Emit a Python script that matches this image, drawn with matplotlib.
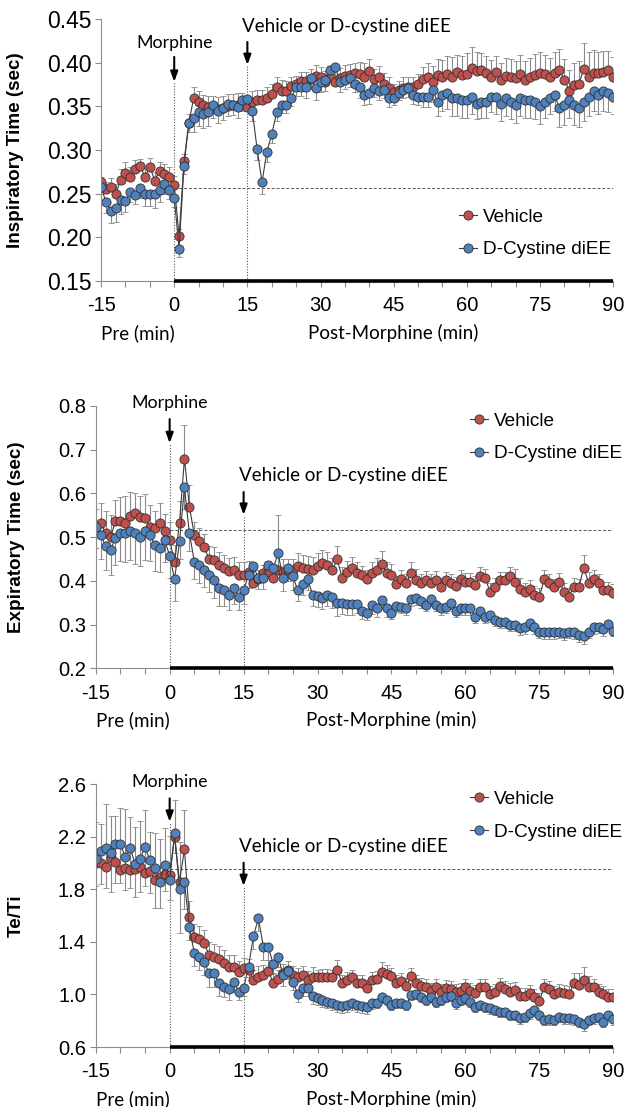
import numpy as np
import matplotlib
matplotlib.use("Agg")
import matplotlib.pyplot as plt
from matplotlib.ticker import MultipleLocator, FormatStrFormatter
from matplotlib.transforms import blended_transform_factory

plt.rcParams['font.family'] = ['Liberation Sans', 'DejaVu Sans']
plt.rcParams['axes.unicode_minus'] = False

# ==========================================
# data, one value per minute, -15 .. 90
# ==========================================
minutes = list(range(-15, 91))

# --- Inspiratory time (sec) ---
ti_vehicle = [
    0.263, 0.255, 0.258, 0.249, 0.266, 0.274, 0.269, 0.278, 0.282, 0.269,
    0.281, 0.265, 0.276, 0.272, 0.269, 0.260, 0.201, 0.287, 0.331, 0.360,
    0.355, 0.351, 0.349, 0.348, 0.347, 0.348, 0.350, 0.351, 0.352, 0.353,
    0.349, 0.355, 0.357, 0.357, 0.360, 0.364, 0.372, 0.368, 0.367, 0.373,
    0.375, 0.379, 0.379, 0.381, 0.385, 0.383, 0.378, 0.384, 0.378, 0.382,
    0.385, 0.386, 0.388, 0.387, 0.383, 0.390, 0.381, 0.384, 0.376, 0.371,
    0.366, 0.369, 0.371, 0.372, 0.372, 0.375, 0.381, 0.384, 0.378, 0.386,
    0.383, 0.387, 0.384, 0.389, 0.386, 0.387, 0.394, 0.390, 0.391, 0.388,
    0.383, 0.389, 0.380, 0.385, 0.384, 0.382, 0.387, 0.380, 0.383, 0.386,
    0.388, 0.387, 0.383, 0.388, 0.392, 0.380, 0.368, 0.374, 0.376, 0.393,
    0.384, 0.388, 0.388, 0.389, 0.391, 0.384]
ti_vehicle_err = [
    0.006, 0.008, 0.010, 0.012, 0.012, 0.012, 0.012, 0.010, 0.008, 0.010,
    0.010, 0.010, 0.010, 0.012, 0.012, 0.010, 0.008, 0.008, 0.010, 0.012,
    0.012, 0.012, 0.013, 0.014, 0.014, 0.014, 0.014, 0.013, 0.013, 0.012,
    0.012, 0.012, 0.012, 0.012, 0.012, 0.012, 0.012, 0.012, 0.012, 0.010,
    0.010, 0.010, 0.010, 0.012, 0.012, 0.012, 0.012, 0.012, 0.014, 0.012,
    0.012, 0.012, 0.012, 0.014, 0.016, 0.014, 0.012, 0.012, 0.012, 0.012,
    0.010, 0.010, 0.012, 0.012, 0.012, 0.012, 0.014, 0.016, 0.018, 0.018,
    0.020, 0.020, 0.022, 0.020, 0.022, 0.024, 0.024, 0.022, 0.020, 0.020,
    0.020, 0.018, 0.020, 0.020, 0.020, 0.020, 0.022, 0.022, 0.022, 0.024,
    0.024, 0.022, 0.022, 0.024, 0.024, 0.024, 0.024, 0.026, 0.026, 0.030,
    0.028, 0.026, 0.024, 0.024, 0.022, 0.022]
ti_cystine = [
    0.258, 0.240, 0.230, 0.233, 0.243, 0.241, 0.252, 0.248, 0.257, 0.250,
    0.250, 0.250, 0.254, 0.261, 0.254, 0.245, 0.187, 0.282, 0.331, 0.336,
    0.343, 0.341, 0.343, 0.351, 0.345, 0.348, 0.353, 0.352, 0.349, 0.357,
    0.358, 0.345, 0.301, 0.263, 0.298, 0.318, 0.343, 0.352, 0.352, 0.360,
    0.372, 0.372, 0.372, 0.382, 0.371, 0.378, 0.380, 0.392, 0.395, 0.378,
    0.380, 0.382, 0.376, 0.372, 0.363, 0.365, 0.371, 0.367, 0.369, 0.359,
    0.359, 0.365, 0.369, 0.371, 0.363, 0.361, 0.361, 0.361, 0.369, 0.355,
    0.363, 0.365, 0.359, 0.359, 0.357, 0.357, 0.361, 0.353, 0.355, 0.355,
    0.361, 0.361, 0.353, 0.359, 0.355, 0.351, 0.359, 0.357, 0.357, 0.355,
    0.350, 0.355, 0.359, 0.363, 0.348, 0.351, 0.357, 0.351, 0.348, 0.355,
    0.361, 0.367, 0.363, 0.367, 0.365, 0.361]
ti_cystine_err = [
    0.008, 0.012, 0.014, 0.016, 0.016, 0.012, 0.012, 0.010, 0.012, 0.014,
    0.014, 0.016, 0.014, 0.012, 0.010, 0.010, 0.010, 0.010, 0.010, 0.016,
    0.016, 0.016, 0.016, 0.014, 0.014, 0.014, 0.014, 0.012, 0.012, 0.012,
    0.012, 0.012, 0.012, 0.014, 0.012, 0.010, 0.010, 0.010, 0.010, 0.010,
    0.010, 0.010, 0.012, 0.012, 0.014, 0.012, 0.012, 0.012, 0.012, 0.012,
    0.010, 0.010, 0.010, 0.012, 0.012, 0.012, 0.010, 0.010, 0.010, 0.010,
    0.008, 0.008, 0.010, 0.010, 0.010, 0.010, 0.012, 0.012, 0.014, 0.016,
    0.018, 0.018, 0.020, 0.020, 0.020, 0.020, 0.020, 0.018, 0.018, 0.018,
    0.018, 0.020, 0.020, 0.020, 0.020, 0.020, 0.020, 0.020, 0.020, 0.020,
    0.020, 0.018, 0.018, 0.018, 0.022, 0.022, 0.020, 0.022, 0.022, 0.022,
    0.022, 0.022, 0.022, 0.022, 0.022, 0.020]

# --- Expiratory time (sec) ---
te_vehicle = [
    0.525, 0.532, 0.510, 0.500, 0.536, 0.536, 0.533, 0.548, 0.555, 0.545,
    0.543, 0.524, 0.520, 0.532, 0.513, 0.494, 0.442, 0.533, 0.679, 0.570,
    0.505, 0.490, 0.478, 0.449, 0.448, 0.436, 0.429, 0.423, 0.425, 0.414,
    0.414, 0.420, 0.394, 0.405, 0.417, 0.421, 0.406, 0.425, 0.421, 0.425,
    0.425, 0.433, 0.429, 0.427, 0.425, 0.433, 0.440, 0.436, 0.425, 0.449,
    0.406, 0.421, 0.429, 0.417, 0.414, 0.404, 0.417, 0.425, 0.439, 0.417,
    0.414, 0.392, 0.404, 0.395, 0.419, 0.402, 0.395, 0.402, 0.396, 0.402,
    0.387, 0.401, 0.395, 0.388, 0.404, 0.398, 0.398, 0.391, 0.411, 0.406,
    0.375, 0.387, 0.401, 0.401, 0.411, 0.398, 0.381, 0.375, 0.381, 0.368,
    0.364, 0.404, 0.395, 0.385, 0.398, 0.375, 0.364, 0.387, 0.385, 0.430,
    0.395, 0.404, 0.395, 0.378, 0.378, 0.372]
te_vehicle_err = [
    0.040, 0.045, 0.050, 0.050, 0.050, 0.055, 0.060, 0.055, 0.045, 0.050,
    0.055, 0.050, 0.040, 0.045, 0.040, 0.040, 0.040, 0.050, 0.078, 0.050,
    0.030, 0.030, 0.030, 0.030, 0.030, 0.030, 0.030, 0.030, 0.030, 0.028,
    0.028, 0.025, 0.020, 0.020, 0.020, 0.025, 0.025, 0.125, 0.030, 0.025,
    0.025, 0.030, 0.030, 0.030, 0.030, 0.030, 0.030, 0.030, 0.028, 0.030,
    0.025, 0.025, 0.025, 0.025, 0.020, 0.020, 0.025, 0.028, 0.030, 0.025,
    0.025, 0.020, 0.020, 0.020, 0.025, 0.025, 0.020, 0.020, 0.020, 0.020,
    0.020, 0.020, 0.020, 0.020, 0.020, 0.020, 0.020, 0.020, 0.020, 0.020,
    0.020, 0.020, 0.020, 0.020, 0.020, 0.030, 0.025, 0.020, 0.020, 0.020,
    0.020, 0.020, 0.020, 0.020, 0.020, 0.020, 0.020, 0.020, 0.020, 0.030,
    0.025, 0.020, 0.020, 0.020, 0.020, 0.020]
te_cystine = [
    0.524, 0.505, 0.480, 0.471, 0.497, 0.510, 0.509, 0.513, 0.509, 0.500,
    0.513, 0.505, 0.482, 0.475, 0.494, 0.457, 0.404, 0.490, 0.614, 0.509,
    0.444, 0.436, 0.425, 0.414, 0.401, 0.383, 0.378, 0.368, 0.383, 0.364,
    0.378, 0.414, 0.433, 0.406, 0.406, 0.436, 0.429, 0.463, 0.406, 0.429,
    0.410, 0.378, 0.393, 0.404, 0.368, 0.365, 0.360, 0.368, 0.364, 0.350,
    0.349, 0.346, 0.346, 0.346, 0.332, 0.326, 0.345, 0.337, 0.356, 0.337,
    0.327, 0.343, 0.341, 0.337, 0.358, 0.360, 0.353, 0.345, 0.358, 0.345,
    0.337, 0.341, 0.350, 0.332, 0.337, 0.337, 0.337, 0.318, 0.330, 0.318,
    0.322, 0.311, 0.307, 0.307, 0.300, 0.300, 0.292, 0.294, 0.303, 0.294,
    0.284, 0.282, 0.282, 0.282, 0.284, 0.280, 0.284, 0.282, 0.276, 0.273,
    0.284, 0.294, 0.295, 0.289, 0.302, 0.286]
te_cystine_err = [
    0.050, 0.055, 0.055, 0.057, 0.060, 0.065, 0.065, 0.065, 0.070, 0.065,
    0.065, 0.060, 0.060, 0.055, 0.050, 0.050, 0.050, 0.040, 0.050, 0.040,
    0.040, 0.040, 0.040, 0.040, 0.040, 0.040, 0.035, 0.035, 0.035, 0.030,
    0.030, 0.030, 0.030, 0.025, 0.025, 0.030, 0.030, 0.040, 0.030, 0.030,
    0.030, 0.025, 0.025, 0.025, 0.025, 0.025, 0.025, 0.025, 0.025, 0.030,
    0.025, 0.025, 0.025, 0.020, 0.020, 0.015, 0.020, 0.020, 0.020, 0.020,
    0.015, 0.015, 0.015, 0.015, 0.015, 0.015, 0.015, 0.015, 0.015, 0.015,
    0.015, 0.015, 0.015, 0.015, 0.015, 0.015, 0.015, 0.015, 0.015, 0.015,
    0.015, 0.015, 0.015, 0.015, 0.015, 0.015, 0.015, 0.015, 0.015, 0.015,
    0.015, 0.015, 0.015, 0.015, 0.015, 0.015, 0.015, 0.015, 0.015, 0.018,
    0.015, 0.015, 0.015, 0.015, 0.012, 0.012]

# --- Te/Ti ---
ratio_vehicle = [
    2.004, 2.000, 1.973, 2.037, 2.010, 1.948, 1.960, 1.948, 1.953, 1.973,
    1.927, 1.940, 1.872, 1.897, 1.917, 1.910, 2.200, 1.860, 2.105, 1.592,
    1.440, 1.420, 1.390, 1.300, 1.288, 1.268, 1.237, 1.212, 1.212, 1.174,
    1.200, 1.190, 1.110, 1.136, 1.148, 1.181, 1.090, 1.115, 1.160, 1.186,
    1.148, 1.130, 1.148, 1.110, 1.136, 1.130, 1.136, 1.136, 1.130, 1.186,
    1.085, 1.110, 1.130, 1.085, 1.085, 1.047, 1.110, 1.115, 1.174, 1.156,
    1.140, 1.085, 1.105, 1.064, 1.140, 1.085, 1.064, 1.060, 1.029, 1.060,
    1.021, 1.047, 1.039, 1.021, 1.029, 1.060, 1.029, 1.014, 1.060, 1.060,
    1.003, 1.021, 1.064, 1.044, 1.021, 1.034, 0.988, 0.988, 1.009, 0.978,
    0.953, 1.060, 1.039, 1.003, 1.021, 1.009, 1.003, 1.085, 1.072, 1.110,
    1.060, 1.060, 1.021, 1.003, 0.978, 0.978]
ratio_vehicle_err = [
    0.31, 0.30, 0.48, 0.32, 0.35, 0.47, 0.45, 0.40, 0.32, 0.35,
    0.48, 0.30, 0.36, 0.29, 0.35, 0.30, 0.28, 0.30, 0.30, 0.12,
    0.10, 0.10, 0.10, 0.10, 0.10, 0.10, 0.10, 0.09, 0.09, 0.08,
    0.08, 0.08, 0.08, 0.08, 0.08, 0.08, 0.07, 0.07, 0.07, 0.07,
    0.07, 0.07, 0.07, 0.07, 0.07, 0.06, 0.06, 0.06, 0.06, 0.08,
    0.06, 0.06, 0.06, 0.06, 0.06, 0.06, 0.06, 0.06, 0.07, 0.07,
    0.06, 0.06, 0.06, 0.06, 0.06, 0.06, 0.06, 0.06, 0.06, 0.06,
    0.06, 0.06, 0.06, 0.06, 0.06, 0.06, 0.06, 0.06, 0.06, 0.06,
    0.06, 0.06, 0.06, 0.06, 0.07, 0.06, 0.06, 0.06, 0.06, 0.06,
    0.06, 0.06, 0.06, 0.06, 0.06, 0.06, 0.06, 0.08, 0.09, 0.10,
    0.08, 0.06, 0.06, 0.06, 0.06, 0.06]
ratio_cystine = [
    2.029, 2.090, 2.112, 2.080, 2.146, 2.146, 2.044, 2.112, 1.993, 2.029,
    2.125, 2.020, 1.960, 1.859, 1.986, 1.872, 2.227, 1.800, 1.854, 1.516,
    1.313, 1.288, 1.250, 1.160, 1.160, 1.085, 1.060, 1.040, 1.097, 1.021,
    1.047, 1.212, 1.445, 1.580, 1.364, 1.364, 1.232, 1.288, 1.148, 1.181,
    1.097, 1.003, 1.047, 1.047, 0.988, 0.971, 0.958, 0.945, 0.933, 0.920,
    0.912, 0.920, 0.933, 0.920, 0.912, 0.902, 0.933, 0.938, 0.978, 0.958,
    0.920, 0.938, 0.938, 0.920, 0.996, 1.003, 0.983, 0.958, 0.983, 0.945,
    0.958, 0.983, 0.988, 0.933, 0.958, 0.971, 0.945, 0.907, 0.920, 0.907,
    0.894, 0.882, 0.869, 0.869, 0.844, 0.844, 0.818, 0.831, 0.856, 0.882,
    0.844, 0.806, 0.811, 0.806, 0.831, 0.818, 0.818, 0.811, 0.793, 0.775,
    0.806, 0.818, 0.831, 0.793, 0.844, 0.811]
ratio_cystine_err = [
    0.20, 0.25, 0.30, 0.30, 0.30, 0.30, 0.25, 0.30, 0.25, 0.25,
    0.30, 0.25, 0.30, 0.20, 0.20, 0.15, 0.15, 0.33, 0.20, 0.10,
    0.10, 0.10, 0.10, 0.10, 0.10, 0.10, 0.08, 0.08, 0.08, 0.06,
    0.06, 0.08, 0.10, 0.10, 0.10, 0.10, 0.08, 0.08, 0.08, 0.06,
    0.06, 0.06, 0.06, 0.06, 0.06, 0.05, 0.05, 0.05, 0.05, 0.05,
    0.05, 0.05, 0.05, 0.05, 0.05, 0.05, 0.04, 0.04, 0.04, 0.04,
    0.04, 0.04, 0.04, 0.04, 0.04, 0.04, 0.04, 0.04, 0.04, 0.04,
    0.04, 0.04, 0.04, 0.04, 0.04, 0.04, 0.04, 0.04, 0.04, 0.04,
    0.04, 0.04, 0.04, 0.04, 0.04, 0.04, 0.04, 0.04, 0.04, 0.04,
    0.04, 0.04, 0.04, 0.04, 0.04, 0.04, 0.04, 0.04, 0.04, 0.05,
    0.04, 0.04, 0.04, 0.04, 0.04, 0.04]

RED = '#C0504D'
BLUE = '#4F81BD'
ANNOT_FONT = ['Lato', 'DejaVu Sans']


def draw_panel(ax, veh, veh_err, cys, cys_err, ylabel, ylim, ystep, yfmt, ysize,
               baseline, morph, inj, leg_pos, label_x):
    zeros = np.zeros(len(minutes))
    handles = []
    # vehicle: upper error bars only, D-cystine: lower error bars only
    for vals, err, face, up in ((veh, veh_err, RED, True), (cys, cys_err, BLUE, False)):
        yerr = [zeros, np.array(err)] if up else [np.array(err), zeros]
        eb = ax.errorbar(minutes, vals, yerr=yerr, fmt='-o', color='#3d3d3d', lw=0.8,
                         ms=6.6, mfc=face, mec='#303030', mew=0.6,
                         ecolor='#8a8a8a', elinewidth=0.8, capsize=2.2, capthick=0.8)
        handles.append(eb[0])

    ymin, ymax = ylim
    ax.set_xlim(-15, 90)
    ax.set_ylim(ymin, ymax)

    # reference lines
    ax.plot([0, 90], [baseline, baseline], ls=(0, (3, 2)), color='#555555', lw=0.7, zorder=1)
    ax.plot([0, 0], [ymin, morph[2]], ls=(0, (1, 1.5)), color='#555555', lw=0.8, zorder=1)
    ax.plot([15, 15], [ymin, inj[2]], ls=(0, (1, 1.5)), color='#555555', lw=0.8, zorder=1)

    # annotations
    arrow = dict(arrowstyle='-|>,head_length=0.6,head_width=0.22',
                 color='black', lw=1.5, shrinkA=0, shrinkB=0)
    ax.text(0, morph[0], 'Morphine', ha='center', va='center', fontsize=12.8,
            family=ANNOT_FONT, clip_on=False)
    ax.annotate('', xy=(0, morph[2]), xytext=(0, morph[1]), annotation_clip=False,
                arrowprops=arrow)
    ax.text(14.0, inj[0], 'Vehicle or D-cystine diEE', ha='left', va='center',
            fontsize=13.5, family=ANNOT_FONT, clip_on=False)
    ax.annotate('', xy=(15, inj[2]), xytext=(15, inj[1]), annotation_clip=False,
                arrowprops=arrow)

    # axes styling (Excel look)
    for s in ('top', 'right'):
        ax.spines[s].set_visible(False)
    for s in ('left', 'bottom'):
        ax.spines[s].set_color('#8c8c8c')
        ax.spines[s].set_linewidth(0.8)
    ax.plot([0, 90], [ymin, ymin], color='black', lw=2.6, solid_capstyle='butt',
            clip_on=False, zorder=5)

    ax.xaxis.set_major_locator(MultipleLocator(15))
    ax.xaxis.set_minor_locator(MultipleLocator(5))
    ax.set_yticks(np.arange(ymin, ymax + ystep / 2, ystep))
    ax.yaxis.set_major_formatter(FormatStrFormatter(yfmt))
    ax.tick_params(axis='both', which='both', direction='out', length=4,
                   width=0.8, color='#8c8c8c')
    ax.tick_params(axis='x', which='major', pad=7, labelsize=14.5)
    ax.tick_params(axis='y', which='major', pad=3, labelsize=ysize)

    ax.set_ylabel(ylabel, fontsize=13.6, fontweight='bold')
    ax.yaxis.set_label_coords(label_x, 0.5)

    trans = blended_transform_factory(ax.transData, ax.transAxes)
    ax.text(-7.5, -0.198, 'Pre (min)', transform=trans, ha='center', va='center',
            fontsize=13.5, family=ANNOT_FONT)
    ax.text(45, -0.198, 'Post-Morphine (min)', transform=trans, ha='center', va='center',
            fontsize=13.5, family=ANNOT_FONT)

    ax.legend(handles, ['Vehicle', 'D-Cystine diEE'], loc='center left',
              bbox_to_anchor=leg_pos, frameon=False, fontsize=13.7,
              handlelength=0.9, handletextpad=0.35, labelspacing=0.8,
              borderpad=0, borderaxespad=0)


fig = plt.figure(figsize=(6.24, 11.07), dpi=100)
ax1 = fig.add_axes([0.162, 0.7462, 0.8205, 0.2367])
ax2 = fig.add_axes([0.1534, 0.3963, 0.8295, 0.2370])
ax3 = fig.add_axes([0.1534, 0.0542, 0.8295, 0.2373])

draw_panel(ax1, ti_vehicle, ti_vehicle_err, ti_cystine, ti_cystine_err,
           'Inspiratory Time (sec)', (0.15, 0.45), 0.05, '%.2f', 16.5, 0.256,
           (0.4225, 0.4065, 0.378), (0.4408, 0.4236, 0.3973), (0.700, 0.181), -0.15)
draw_panel(ax2, te_vehicle, te_vehicle_err, te_cystine, te_cystine_err,
           'Expiratory Time (sec)', (0.2, 0.8), 0.1, '%.1f', 14.5, 0.5165,
           (0.807, 0.770, 0.715), (0.640, 0.603, 0.551), (0.724, 0.88), -0.137)
draw_panel(ax3, ratio_vehicle, ratio_vehicle_err, ratio_cystine, ratio_cystine_err,
           'Te/Ti', (0.6, 2.6), 0.4, '%.1f', 14.5, 1.953,
           (2.62, 2.493, 2.315), (2.125, 2.003, 1.826), (0.724, 0.881), -0.137)

fig.savefig('out.png', dpi=100)
